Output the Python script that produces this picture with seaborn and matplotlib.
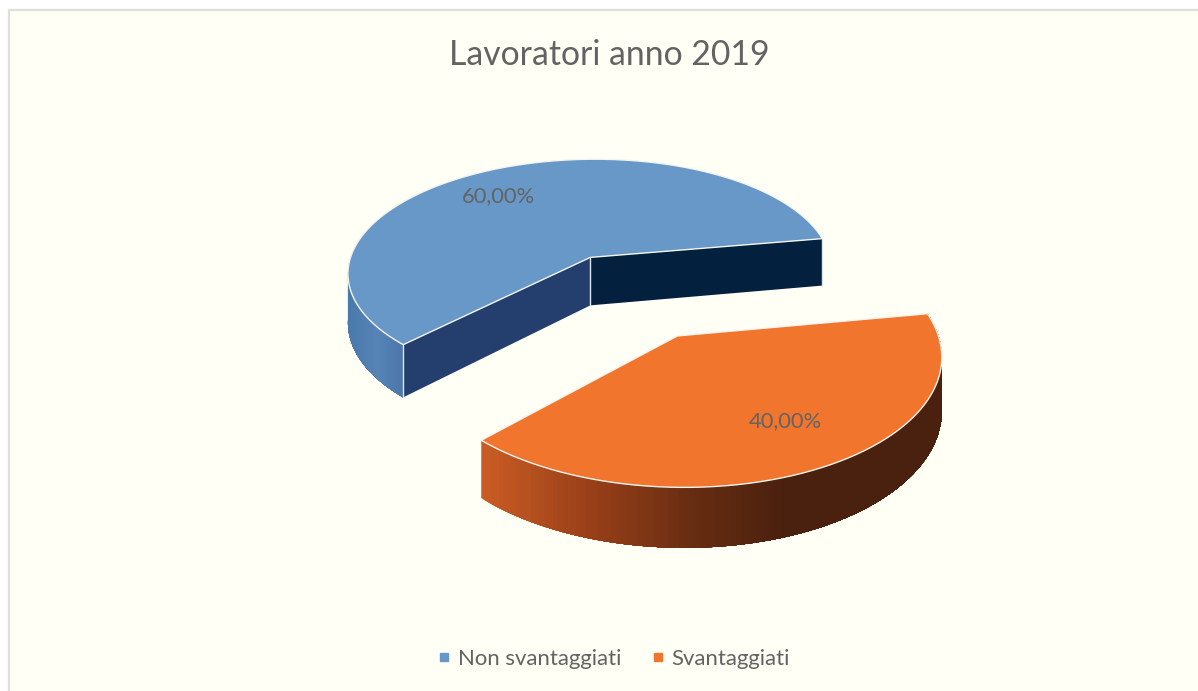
# pie 3D lavoratori 2019
import numpy as np
import pandas as pd
import matplotlib.pyplot as plt
from matplotlib.lines import Line2D
from matplotlib.patches import Rectangle
import seaborn as sns

categories = ["Non svantaggiati", "Svantaggiati"]
values = [60.0, 40.0]
title = "Lavoratori anno 2019"

sns.set_theme(style="white")
plt.rcParams['font.family'] = ['Lato', 'DejaVu Sans']

df = pd.DataFrame({"categoria": categories, "valore": values})
df["quota"] = df["valore"] / df["valore"].sum()

# the view, in pixels
START = 10.0
EXPLODE = 0.37
X0, Y0 = 632, 295
F, G, P = 250, 120, 0.13
DEPTH = 50

top_colors = sns.color_palette(["#6898C8", "#F2752E"])
wall_colors = [
    sns.blend_palette(["#4a79ab", "#5684b6", "#4a75a8"], 40),
    sns.blend_palette(["#C85C24", "#9a4019", "#6a2e12", "#4a200e"], 60),
]
cut_colors = [("#243f6e", "#03213f"), None]
gray = "#636363"


def project(x, y, z=0.0):
    s = 1 / (1 + P * y)
    return X0 + F * x * s, Y0 - G * y * s + DEPTH * z * s


def rim(a1, a2, ox, oy, z=0.0, n=200):
    t = np.radians(np.linspace(a1, a2, n))
    return project(ox + np.cos(t), oy + np.sin(t), z)


fig = plt.figure(figsize=(11.98, 6.91), dpi=100)
fig.patch.set_facecolor("white")
ax = fig.add_axes([0, 0, 1, 1])
ax.set_xlim(0, 1198)
ax.set_ylim(691, 0)
ax.axis("off")
ax.add_patch(Rectangle((9, 10), 1300, 800, fc="#FFFFF5", ec="#DEDEDA", lw=1.6))

a = START
for i, row in df.iterrows():
    a1, a2 = a, a + row["quota"] * 360
    a = a2
    mid = np.radians((a1 + a2) / 2)
    ox, oy = EXPLODE * np.cos(mid), EXPLODE * np.sin(mid)

    # outer wall, shaded from left to right, each piece runs to the end so no seams show
    pal = wall_colors[i]
    wa = np.arange(max(a1, 180), a2 + 1, 1.0)
    xt, yt = rim(wa[0], wa[-1], ox, oy, 0, len(wa))
    xb, yb = rim(wa[0], wa[-1], ox, oy, 1, len(wa))
    for k in range(len(wa) - 1):
        frac = (xt[k] - xt.min()) / (xt.max() - xt.min())
        if i == 1:
            frac = min(frac / 0.65, 1)
        c = pal[int(frac * (len(pal) - 1))]
        ax.fill(np.r_[xt[k:], xb[k:][::-1]], np.r_[yt[k:], yb[k:][::-1]],
                color=c, lw=0, zorder=2 + i)

    # the two cut faces, only the first slice shows them
    ax_, ay_ = project(ox, oy)
    bx_, by_ = project(ox, oy, 1)
    if cut_colors[i] is not None:
        for ang, c in zip((a2, a1), cut_colors[i]):
            ex, ey = project(ox + np.cos(np.radians(ang)), oy + np.sin(np.radians(ang)))
            fx, fy = project(ox + np.cos(np.radians(ang)), oy + np.sin(np.radians(ang)), 1)
            ax.fill([ax_, ex, fx, bx_], [ay_, ey, fy, by_], color=c, lw=0, zorder=2 + i)
            ax.plot([ex, fx], [ey, fy], color="#dfe6ee", lw=1.0, zorder=2.5 + i)
        ax.plot([ax_, bx_], [ay_, by_], color="#dfe6ee", lw=1.0, zorder=2.5 + i)

    # top face
    tx, ty = rim(a1, a2, ox, oy)
    ax.fill(np.r_[ax_, tx], np.r_[ay_, ty], color=top_colors[i], lw=0, zorder=3 + i)
    ax.plot(np.r_[tx, ax_, tx[0]], np.r_[ty, ay_, ty[0]], color="#f4f4ee", lw=1.0, zorder=3 + i)

ax.text(609, 55, title, ha="center", va="center", fontsize=24.3, color=gray)
label_pos = [(498, 196), (785, 421)]
for v, (lx, ly) in zip(df["valore"], label_pos):
    ax.text(lx, ly, f"{v:.2f}%".replace(".", ","), ha="center", va="center",
            fontsize=15.8, color=gray, zorder=10)

handles = [Line2D([], [], ls="", marker="s", ms=5.5, color=c) for c in top_colors]
ax.legend(handles, categories)
sns.move_legend(ax, "center", bbox_to_anchor=(0.5113, 0.046), frameon=False, ncol=2,
                fontsize=15.9, labelcolor=gray, handlelength=0.8, handletextpad=0.19,
                columnspacing=1.28)

fig.savefig("out.png", dpi=100)
